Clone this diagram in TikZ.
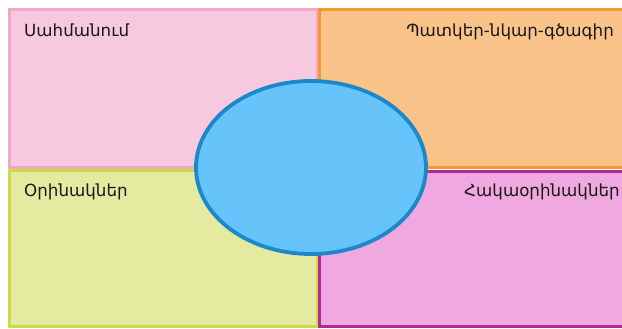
\documentclass[tikz,border=0pt]{standalone}
\usepackage{fontspec}
\usetikzlibrary{shapes.geometric}
\setmainfont{DejaVu Sans}
\definecolor{pinkF}{HTML}{F7C9DF}\definecolor{pinkD}{HTML}{F2A7C8}
\definecolor{orF}{HTML}{FAC38A}\definecolor{orD}{HTML}{F39A2E}
\definecolor{grF}{HTML}{E4EAA0}\definecolor{grD}{HTML}{C9DC45}
\definecolor{mgF}{HTML}{F0A8E0}\definecolor{mgD}{HTML}{B5279A}
\definecolor{blF}{HTML}{66C4FA}\definecolor{blD}{HTML}{1A88C9}
\tikzset{quad/.style={line width=3pt},
 lab/.style={font=\fontsize{16.7}{18}\selectfont, text=black!90, inner sep=0pt}}
\begin{document}
\begin{tikzpicture}[x=1pt,y=-1pt]
\useasboundingbox (0,0) rectangle (622,329);
\fill[white] (0,0) rectangle (622,329);
\draw[quad, fill=pinkF, draw=pinkD] (9.5,9.5) rectangle (317,167.5);
\draw[quad, fill=orF, draw=orD] (319.5,9.5) rectangle (624,167.5);
\draw[quad, fill=grF, draw=grD] (9.5,170.5) rectangle (317,326);
\draw[quad, fill=mgF, draw=mgD] (319.5,171) rectangle (624,326);
\node[draw=blD, fill=blF, line width=3.8pt, ellipse, minimum width=230, minimum height=173, inner sep=0pt] (c) at (311,167.5) {};
\node[lab, anchor=base west] (t1) at (24,36.5) {Սահմանում};
\node[lab, anchor=base east] (t2) at (614,36.5) {Պատկեր-նկար-գծագիր};
\node[lab, anchor=base west] (t3) at (24,196) {Օրինակներ};
\node[lab, anchor=base east] (t4) at (620,196) {Հակաօրինակներ};
\end{tikzpicture}
\end{document}
